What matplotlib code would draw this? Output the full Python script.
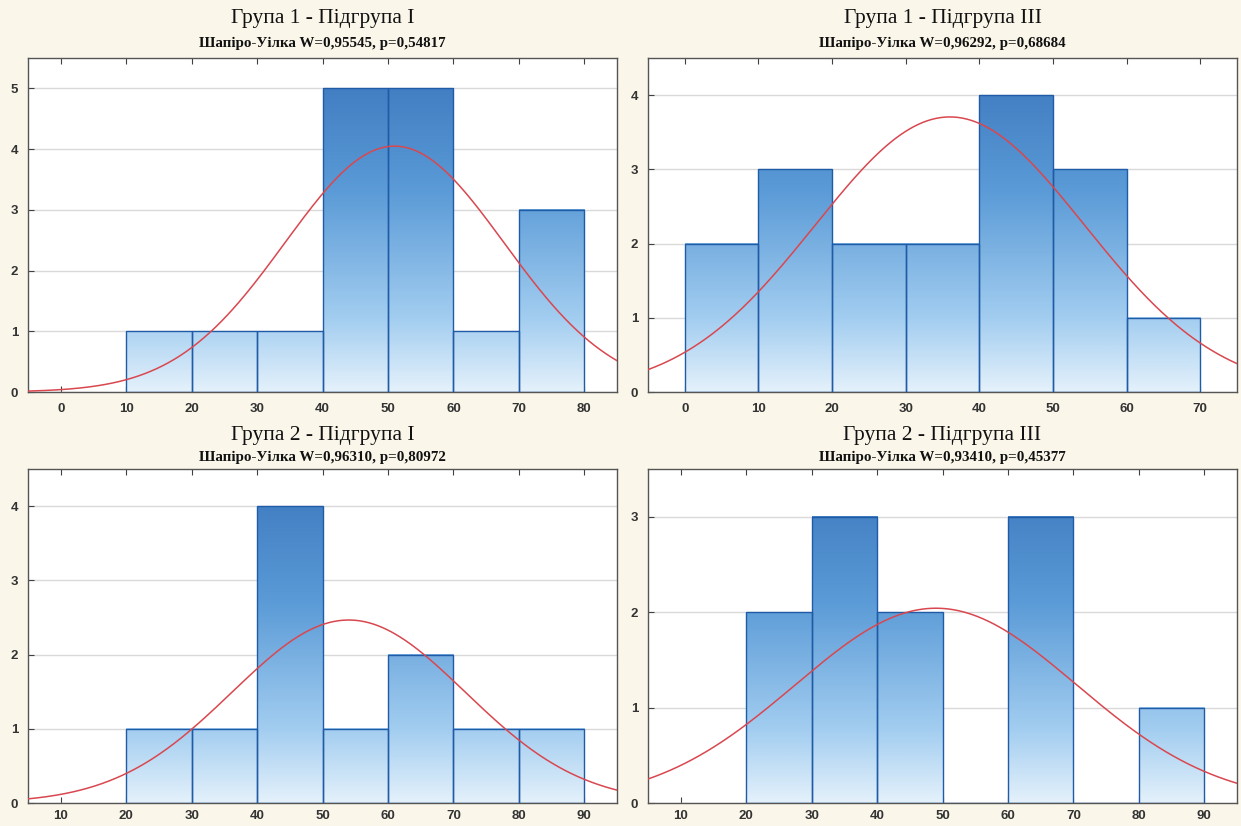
import matplotlib.pyplot as plt
import numpy as np
from matplotlib.colors import LinearSegmentedColormap

# дані гістограм (ліві краї бінів, ширина 10) і параметри нормальної кривої
titles = ['Група 1 - Підгрупа I', 'Група 1 - Підгрупа III',
          'Група 2 - Підгрупа I', 'Група 2 - Підгрупа III']
subtitles = ['Шапіро-Уілка W=0,95545, p=0,54817',
             'Шапіро-Уілка W=0,96292, p=0,68684',
             'Шапіро-Уілка W=0,96310, p=0,80972',
             'Шапіро-Уілка W=0,93410, p=0,45377']
bin_starts = [[10, 20, 30, 40, 50, 60, 70],
              [0, 10, 20, 30, 40, 50, 60],
              [20, 30, 40, 50, 60, 70, 80],
              [20, 30, 40, 50, 60, 70, 80]]
counts = [[1, 1, 1, 5, 5, 1, 3],
          [2, 3, 2, 2, 4, 3, 1],
          [1, 1, 4, 1, 2, 1, 1],
          [2, 3, 2, 0, 3, 0, 1]]
means = [51.0, 36.0, 54.0, 49.0]
sigmas = [16.75, 18.3, 17.8, 21.5]
xlims = [(-5, 85), (-5, 75), (5, 95), (5, 95)]
ylims = [5.5, 4.5, 4.5, 3.5]
xticks = [range(0, 81, 10), range(0, 71, 10), range(10, 91, 10), range(10, 91, 10)]
width = 10

bg = '#faf7ea'
cmap = LinearSegmentedColormap.from_list(
    'bars', [(0, '#e4f1fb'), (0.22, '#a2cdf0'), (0.6, '#5b9bd7'), (1, '#3a76bd')])

fig = plt.figure(figsize=(12.41, 8.26), dpi=100, facecolor=bg)

W, H = 1241, 826
boxes = [(28, 58), (648, 58), (28, 469), (648, 469)]  # лівий-верхній кут осей у пікселях
aw, ah = 589, 334

for i in range(4):
    x0, y0 = boxes[i]
    ax = fig.add_axes([x0 / W, 1 - (y0 + ah) / H, aw / W, ah / H])
    ax.set_facecolor('white')
    ymax = ylims[i]
    for left, c in zip(bin_starts[i], counts[i]):
        if c == 0:
            continue
        grad = np.linspace(0, c / ymax, 256).reshape(-1, 1)
        ax.imshow(grad, extent=(left, left + width, 0, c), origin='lower',
                  cmap=cmap, vmin=0, vmax=1, aspect='auto', zorder=2)
    ax.bar(bin_starts[i], counts[i], width=width, align='edge',
           facecolor='none', edgecolor='#1f5ba6', linewidth=1.0, zorder=3)

    xs = np.linspace(xlims[i][0], xlims[i][1], 400)
    n = sum(counts[i])
    ys = n * width / (sigmas[i] * np.sqrt(2 * np.pi)) * np.exp(-(xs - means[i]) ** 2 / (2 * sigmas[i] ** 2))
    ax.plot(xs, ys, color='#d9474f', linewidth=1.1, zorder=4)

    ax.set_xlim(*xlims[i])
    ax.set_ylim(0, ymax)
    ax.set_xticks(list(xticks[i]))
    ax.set_yticks(range(0, int(ymax) + 1))
    ax.yaxis.grid(True, color='#d9d9d9', linewidth=1.0)
    ax.set_axisbelow(True)
    ax.tick_params(direction='in', top=True, right=False, length=4, width=0.8,
                   color='#404040', labelsize=9.5)
    ax.tick_params(axis='x', pad=8 if i < 2 else 5)
    ax.tick_params(axis='y', pad=7)
    for lab in ax.get_xticklabels() + ax.get_yticklabels():
        lab.set_family('Liberation Sans')
        lab.set_weight('bold')
        lab.set_color('#333333')
    for s in ax.spines.values():
        s.set_color('#555555')
        s.set_linewidth(1.0)

    cx = (x0 + aw / 2) / W
    title_y = 19 if i < 2 else 436
    sub_y = 43 if i < 2 else 457
    fig.text(cx, 1 - title_y / H, titles[i], ha='center', va='center',
             family='Liberation Serif', fontsize=15.5, color='#111111')
    fig.text(cx, 1 - sub_y / H, subtitles[i], ha='center', va='center',
             family='Liberation Serif', fontsize=10.8, weight='bold', color='#111111')

fig.savefig('out.png', dpi=100, facecolor=bg)
